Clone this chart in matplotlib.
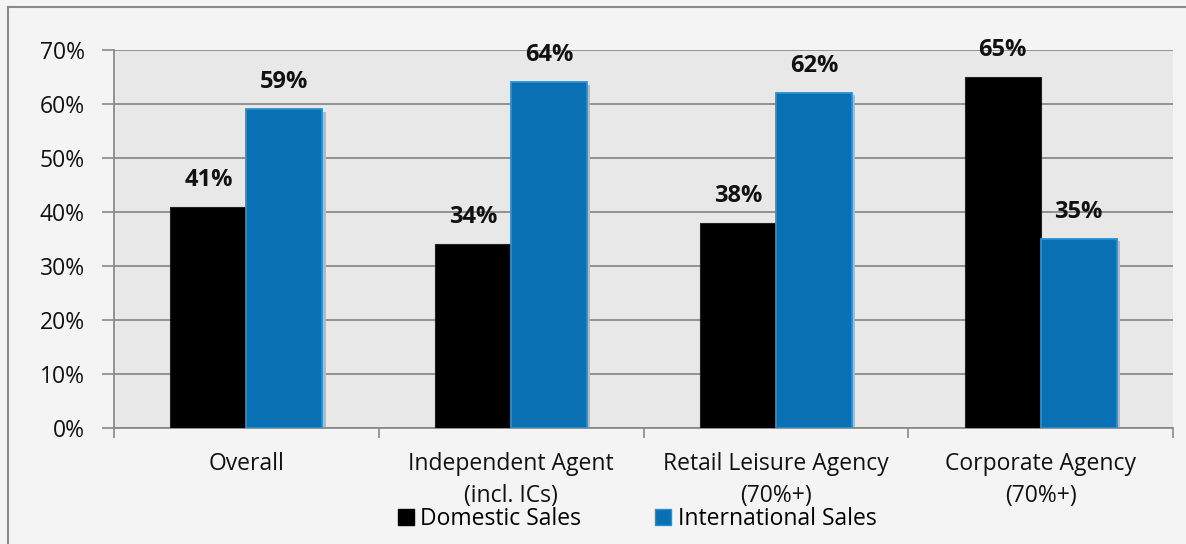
import numpy as np
import matplotlib.pyplot as plt
from matplotlib.lines import Line2D
from matplotlib.patches import Patch

categories = ["Overall", "Independent Agent\n(incl. ICs)", "Retail Leisure Agency\n(70%+)", "Corporate Agency\n(70%+)"]
domestic = [41, 34, 38, 65]
international = [59, 64, 62, 35]
yticks = [0, 10, 20, 30, 40, 50, 60, 70]

plt.rcParams['font.family'] = ['Open Sans', 'DejaVu Sans']

fig = plt.figure(figsize=(11.86, 5.44), dpi=100, facecolor='#f4f4f4')
ax = fig.add_axes([114 / 1186, 1 - 428 / 544, (1173 - 114) / 1186, (428 - 50) / 544])
ax.set_facecolor('#e8e8e8')

x = np.arange(len(categories))
w = 0.287
b1 = ax.bar(x - w / 2, domestic, w, color='black', edgecolor='#222222', linewidth=0.8, zorder=3)
# soft shadow to the right of the blue bars
ax.bar(x + w / 2 + 0.012, international, w, bottom=-0.4, color='#b8b8b8', linewidth=0, zorder=2)
b2 = ax.bar(x + w / 2, international, w, color='#0a70b4', edgecolor='#2a90d4', linewidth=1.3, zorder=3)

for rects, vals in ((b1, domestic), (b2, international)):
    for r, v in zip(rects, vals):
        ax.text(r.get_x() + r.get_width() / 2, v + 5.0, f"{v}%", ha='center', va='center',
                fontsize=17, fontweight='bold', color='#111111', zorder=4)

ax.set_xlim(-0.5, len(categories) - 0.5)
ax.set_ylim(0, 70)
ax.set_yticks(yticks)
ax.set_yticklabels([f"{t}%" for t in yticks], fontsize=16.5, color='#111111')
ax.yaxis.grid(True, color='#8a8a8a', linewidth=1.3, zorder=0)
ax.set_axisbelow(True)

ax.set_xticks(x)
ax.set_xticklabels(categories, fontsize=16.5, linespacing=1.4, color='#111111')
ax.set_xticks(np.arange(len(categories) + 1) - 0.5, minor=True)
ax.tick_params(axis='x', which='major', length=0, pad=17.5)
ax.tick_params(axis='x', which='minor', length=7, color='#8a8a8a', width=1.2)
ax.tick_params(axis='y', length=9, color='#8a8a8a', width=1.2, pad=12)

for s in ['top', 'right']:
    ax.spines[s].set_visible(False)
for s in ['left', 'bottom']:
    ax.spines[s].set_color('#8a8a8a')
    ax.spines[s].set_linewidth(1.3)

# outer chart frame (left and top edges visible)
fig.add_artist(Line2D([8 / 1186, 8 / 1186], [0, 1 - 7 / 544], color='#8a8a8a', lw=1.5))
fig.add_artist(Line2D([8 / 1186, 1], [1 - 7 / 544, 1 - 7 / 544], color='#8a8a8a', lw=1.5))

handles = [Patch(facecolor='black', edgecolor='black'),
           Patch(facecolor='#0a70b4', edgecolor='#2a90d4')]
fig.legend(handles, ["Domestic Sales", "International Sales"], loc='center',
           bbox_to_anchor=(637 / 1186, 1 - 519 / 544), ncol=2, frameon=False,
           fontsize=16.5, handlelength=0.7, handleheight=0.7, handletextpad=0.3,
           columnspacing=3.2, borderpad=0)

fig.savefig('out.png', dpi=100, facecolor=fig.get_facecolor())
